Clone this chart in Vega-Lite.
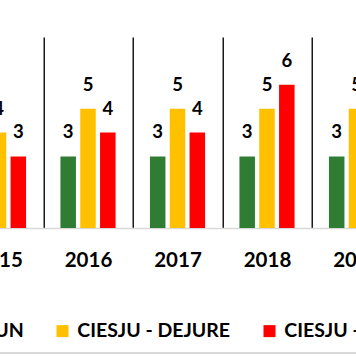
{
  "$schema": "https://vega.github.io/schema/vega-lite/v6.json",
  "width": 447.5,
  "height": 191,
  "autosize": {"type": "none"},
  "padding": {"left": -46.25, "top": 37, "right": 0, "bottom": 136},
  "background": "white",
  "config": {"view": {"stroke": null}},
  "data": {"values": [
    {"year": "2015", "series": "CIESJU - COMUN", "value": 3},
    {"year": "2015", "series": "CIESJU - DEJURE", "value": 4},
    {"year": "2015", "series": "CIESJU - DEFACTO", "value": 3},
    {"year": "2016", "series": "CIESJU - COMUN", "value": 3},
    {"year": "2016", "series": "CIESJU - DEJURE", "value": 5},
    {"year": "2016", "series": "CIESJU - DEFACTO", "value": 4},
    {"year": "2017", "series": "CIESJU - COMUN", "value": 3},
    {"year": "2017", "series": "CIESJU - DEJURE", "value": 5},
    {"year": "2017", "series": "CIESJU - DEFACTO", "value": 4},
    {"year": "2018", "series": "CIESJU - COMUN", "value": 3},
    {"year": "2018", "series": "CIESJU - DEJURE", "value": 5},
    {"year": "2018", "series": "CIESJU - DEFACTO", "value": 6},
    {"year": "2019", "series": "CIESJU - COMUN", "value": 3},
    {"year": "2019", "series": "CIESJU - DEJURE", "value": 5},
    {"year": "2019", "series": "CIESJU - DEFACTO", "value": 4}
  ]},
  "encoding": {
    "x": {
      "field": "year", "type": "nominal", "title": null,
      "scale": {"paddingInner": 0, "paddingOuter": 0},
      "axis": {
        "labelAngle": 0, "labelFont": "Lato", "labelFontWeight": "bold",
        "labelFontSize": 20.5, "labelColor": "#000000", "labelPadding": 22,
        "ticks": false, "grid": true, "tickBand": "extent", "gridColor": "#1a1a1a",
        "gridWidth": 1.5, "domainColor": "#d9d9d9", "domainWidth": 1.5
      }
    },
    "xOffset": {
      "field": "series", "type": "nominal",
      "sort": ["CIESJU - COMUN", "CIESJU - DEJURE", "CIESJU - DEFACTO"],
      "scale": {"paddingInner": 0.217, "paddingOuter": 0.868}
    },
    "y": {
      "field": "value", "type": "quantitative",
      "scale": {"domain": [0, 8], "nice": false, "zero": true},
      "axis": null
    }
  },
  "layer": [
    {
      "mark": {"type": "bar"},
      "encoding": {
        "color": {
          "field": "series", "type": "nominal",
          "sort": ["CIESJU - COMUN", "CIESJU - DEJURE", "CIESJU - DEFACTO"],
          "scale": {"domain": ["CIESJU - COMUN", "CIESJU - DEJURE", "CIESJU - DEFACTO"], "range": ["#2E7D32", "#FFC000", "#FF0000"]},
          "legend": {
            "orient": "none", "direction": "horizontal", "title": null,
            "legendX": -111, "legendY": 284, "padding": 0,
            "symbolType": "square", "symbolSize": 144, "symbolStrokeWidth": 0,
            "symbolOpacity": 1,
            "labelFont": "Lato", "labelFontWeight": "bold",
            "labelFontSize": 19.5, "labelColor": "#000000", "labelOffset": 5,
            "columnPadding": 29, "labelLimit": 400
          }
        }
      }
    },
    {
      "mark": {"type": "text", "dy": -18, "baseline": "alphabetic", "font": "Lato", "fontWeight": "bold", "fontSize": 18.5, "color": "#000000"},
      "encoding": {"text": {"field": "value", "type": "quantitative"}}
    },
    {
      "mark": {"type": "rule", "color": "#d9d9d9", "strokeWidth": 1.5},
      "encoding": {"y": {"datum": -5.24}, "x": null, "xOffset": null}
    }
  ]
}
